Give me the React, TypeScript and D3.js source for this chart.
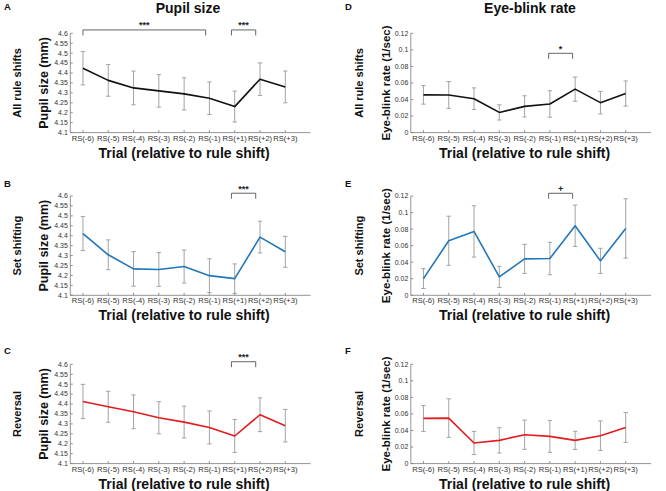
import React from "react";
import * as d3 from "d3";

const trials = ["RS(-6)", "RS(-5)", "RS(-4)", "RS(-3)", "RS(-2)", "RS(-1)", "RS(+1)", "RS(+2)", "RS(+3)"];
const pupilTicks = [4.1, 4.15, 4.2, 4.25, 4.3, 4.35, 4.4, 4.45, 4.5, 4.55, 4.6];
const blinkTicks = [0, 0.02, 0.04, 0.06, 0.08, 0.1, 0.12];

const pupilAllMean = [4.424, 4.363, 4.325, 4.31, 4.295, 4.273, 4.231, 4.369, 4.33];
const pupilAllErr = [0.084, 0.08, 0.085, 0.082, 0.081, 0.082, 0.078, 0.082, 0.08];
const pupilSetMean = [4.411, 4.304, 4.233, 4.23, 4.245, 4.199, 4.184, 4.393, 4.319];
const pupilSetErr = [0.086, 0.075, 0.087, 0.085, 0.083, 0.085, 0.074, 0.08, 0.078];
const pupilRevMean = [4.413, 4.386, 4.361, 4.331, 4.309, 4.282, 4.239, 4.346, 4.291];
const pupilRevErr = [0.086, 0.078, 0.085, 0.081, 0.08, 0.083, 0.083, 0.085, 0.082];

const blinkAllMean = [0.0456, 0.0455, 0.041, 0.0244, 0.0317, 0.0346, 0.0525, 0.0362, 0.0472];
const blinkAllErr = [0.0112, 0.0162, 0.013, 0.0092, 0.0128, 0.016, 0.0146, 0.0136, 0.0152];
const blinkSetMean = [0.0202, 0.0659, 0.0772, 0.0222, 0.044, 0.0444, 0.084, 0.0416, 0.0808];
const blinkSetErr = [0.012, 0.0297, 0.031, 0.0128, 0.0176, 0.0196, 0.025, 0.0152, 0.0359];
const blinkRevMean = [0.0546, 0.055, 0.0249, 0.0281, 0.0349, 0.0329, 0.0281, 0.0337, 0.0437];
const blinkRevErr = [0.0157, 0.0233, 0.014, 0.0153, 0.0177, 0.0193, 0.011, 0.0178, 0.018];

// significance brackets: [from trial pos, to trial pos, level (data units), label]
const bracketsA: [number, number, number, string][] = [[1, 5.85, 4.617, "***"], [6.87, 7.83, 4.617, "***"]];
const bracketsB: [number, number, number, string][] = [[6.87, 7.83, 4.614, "***"]];
const bracketsC: [number, number, number, string][] = [[6.87, 7.83, 4.613, "***"]];
const bracketsD: [number, number, number, string][] = [[5.95, 6.9, 0.0958, "*"]];
const bracketsE: [number, number, number, string][] = [[5.95, 6.9, 0.1233, "+"]];
const bracketsF: [number, number, number, string][] = [];

const rowLabels = ["All rule shifts", "Set shifting", "Reversal"];
const panelLetters = ["A", "B", "C", "D", "E", "F"];

const FONT = "'Liberation Sans', Arial, Helvetica, sans-serif";

type PanelProps = {
  left: number;
  right: number;
  top: number;
  bottom: number;
  yDomain: [number, number];
  yTicks: number[];
  mean: number[];
  err: number[];
  color: string;
  yLabel: string;
  yLabelX: number;
  yLabelSize: number;
  brackets: [number, number, number, string][];
};

function Panel(p: PanelProps) {
  const x = d3.scaleLinear().domain([0.5, 10]).range([p.left, p.right]);
  const y = d3.scaleLinear().domain(p.yDomain).range([p.bottom, p.top]);
  const pts = p.mean.map((m, i) => [x(i + 1), y(m)] as [number, number]);
  const line = d3.line()(pts) || "";
  const fmt = (v: number) => String(+v.toFixed(3));
  const axisColor = "#7a7a7a";
  const cap = 2.2;
  return (
    <g>
      {/* axes */}
      <line x1={p.left} x2={p.left} y1={p.top} y2={p.bottom} stroke={axisColor} strokeWidth={0.8} />
      <line x1={p.left} x2={p.right} y1={p.bottom} y2={p.bottom} stroke={axisColor} strokeWidth={0.8} />
      {p.yTicks.map((t) => (
        <g key={"yt" + t}>
          <line x1={p.left} x2={p.left + 2.5} y1={y(t)} y2={y(t)} stroke={axisColor} strokeWidth={0.8} />
          <text x={p.left - 2.5} y={y(t) + 2.4} fontSize={7} textAnchor="end" fill="#333" fontFamily={FONT}>
            {fmt(t)}
          </text>
        </g>
      ))}
      {trials.map((t, i) => (
        <g key={"xt" + t}>
          <line x1={x(i + 1)} x2={x(i + 1)} y1={p.bottom} y2={p.bottom - 2.5} stroke={axisColor} strokeWidth={0.8} />
          <text x={x(i + 1)} y={p.bottom + 8} fontSize={7.6} textAnchor="middle" fill="#333" fontFamily={FONT}>
            {t}
          </text>
        </g>
      ))}
      {/* error bars */}
      {p.mean.map((m, i) => {
        const cx = x(i + 1);
        const y1 = y(m + p.err[i]);
        const y2 = y(m - p.err[i]);
        return (
          <g key={"eb" + i} stroke="#9a9a9a" strokeWidth={0.9}>
            <line x1={cx} x2={cx} y1={y1} y2={y2} />
            <line x1={cx - cap} x2={cx + cap} y1={y1} y2={y1} />
            <line x1={cx - cap} x2={cx + cap} y1={y2} y2={y2} />
          </g>
        );
      })}
      <path d={line} fill="none" stroke={p.color} strokeWidth={1.6} strokeLinejoin="round" />
      {/* brackets */}
      {p.brackets.map((b, i) => {
        const xa = x(b[0]);
        const xb = x(b[1]);
        const yb = y(b[2]);
        return (
          <g key={"br" + i}>
            <path
              d={`M${xa},${yb + 5.5}V${yb}H${xb}V${yb + 5.5}`}
              fill="none"
              stroke="#555"
              strokeWidth={0.9}
            />
            <text
              x={(xa + xb) / 2}
              y={yb - 1.5}
              fontSize={9}
              fontWeight="bold"
              textAnchor="middle"
              fill="#222"
              fontFamily={FONT}
            >
              {b[3]}
            </text>
          </g>
        );
      })}
      {/* y label */}
      <text
        transform={`translate(${p.yLabelX},${(p.top + p.bottom) / 2}) rotate(-90)`}
        fontSize={p.yLabelSize}
        fontWeight="bold"
        textAnchor="middle"
        fill="#111"
        fontFamily={FONT}
      >
        {p.yLabel}
      </text>
      {/* x label */}
      <text
        x={(x(1) + x(9)) / 2}
        y={p.bottom + 25}
        fontSize={14}
        fontWeight="bold"
        textAnchor="middle"
        fill="#111"
        fontFamily={FONT}
      >
        Trial (relative to rule shift)
      </text>
    </g>
  );
}

export default function App() {
  const rowTops = [33.3, 196, 364.3];
  const h = 99.3;
  const pupilMeans = [pupilAllMean, pupilSetMean, pupilRevMean];
  const pupilErrs = [pupilAllErr, pupilSetErr, pupilRevErr];
  const blinkMeans = [blinkAllMean, blinkSetMean, blinkRevMean];
  const blinkErrs = [blinkAllErr, blinkSetErr, blinkRevErr];
  const pupilBr = [bracketsA, bracketsB, bracketsC];
  const blinkBr = [bracketsD, bracketsE, bracketsF];
  const colors = ["#111111", "#2277bb", "#e41b1f"];
  const letterY = [10, 187, 354];
  return (
    <svg width={666} height={491} style={{ position: "absolute", left: 0, top: 0, background: "#fff" }}>
      <rect width={666} height={491} fill="#fff" />
      <text x={188} y={13} fontSize={14} fontWeight="bold" textAnchor="middle" fill="#111" fontFamily={FONT}>
        Pupil size
      </text>
      <text x={530} y={13} fontSize={14} fontWeight="bold" textAnchor="middle" fill="#111" fontFamily={FONT}>
        Eye-blink rate
      </text>
      {rowTops.map((top, r) => (
        <g key={"row" + r}>
          <text x={4} y={letterY[r]} fontSize={9.5} fontWeight="bold" fill="#111" fontFamily={FONT}>
            {panelLetters[r]}
          </text>
          <text x={345} y={letterY[r]} fontSize={9.5} fontWeight="bold" fill="#111" fontFamily={FONT}>
            {panelLetters[r + 3]}
          </text>
          <text
            transform={`translate(21,${top + h / 2}) rotate(-90)`}
            fontSize={11}
            fontWeight="bold"
            textAnchor="middle"
            fill="#111"
            fontFamily={FONT}
          >
            {rowLabels[r]}
          </text>
          <text
            transform={`translate(363,${top + h / 2}) rotate(-90)`}
            fontSize={11}
            fontWeight="bold"
            textAnchor="middle"
            fill="#111"
            fontFamily={FONT}
          >
            {rowLabels[r]}
          </text>
          <Panel
            left={70.3}
            right={310.6}
            top={top}
            bottom={top + h}
            yDomain={[4.1, 4.6]}
            yTicks={pupilTicks}
            mean={pupilMeans[r]}
            err={pupilErrs[r]}
            color={colors[r]}
            yLabel="Pupil size (mm)"
            yLabelX={48}
            yLabelSize={12.5}
            brackets={pupilBr[r]}
          />
          <Panel
            left={410.8}
            right={651}
            top={top}
            bottom={top + h}
            yDomain={[0, 0.12]}
            yTicks={blinkTicks}
            mean={blinkMeans[r]}
            err={blinkErrs[r]}
            color={colors[r]}
            yLabel="Eye-blink rate (1/sec)"
            yLabelX={390}
            yLabelSize={11.5}
            brackets={blinkBr[r]}
          />
        </g>
      ))}
    </svg>
  );
}
